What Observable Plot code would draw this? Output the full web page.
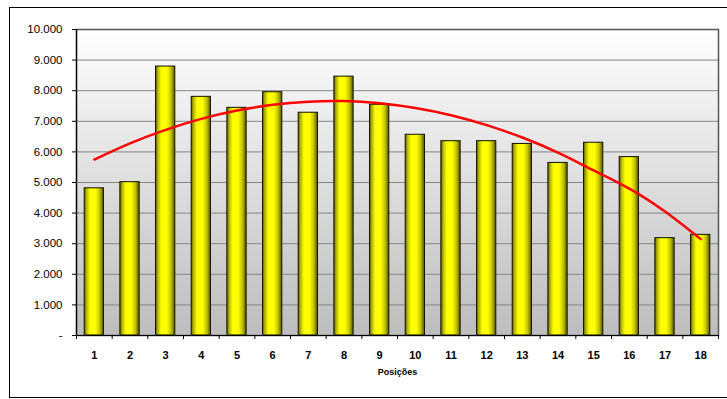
<!DOCTYPE html>
<html><head><meta charset="utf-8">
<script src="https://cdn.jsdelivr.net/npm/d3@7"></script>
<script src="https://cdn.jsdelivr.net/npm/@observablehq/plot@0.6"></script>
<style>
body{margin:0;background:#fff;overflow:hidden}
#wrap{position:relative;width:727px;height:399px;overflow:hidden}
#border{position:absolute;left:9px;top:7px;width:740px;height:389px;border:1px solid #000;pointer-events:none}
</style></head><body><div id="wrap"><div id="chart"></div><div id="border"></div></div>
<script>
const positions = [1,2,3,4,5,6,7,8,9,10,11,12,13,14,15,16,17,18];
const values = [4810,5010,8790,7800,7440,7950,7280,8460,7540,6560,6350,6350,6260,5640,6300,5830,3180,3290];
const trend = [5750,6280,6720,7080,7350,7540,7640,7660,7590,7435,7200,6875,6470,5975,5395,4800,4050,3150];
const yTicks = [0,1000,2000,3000,4000,5000,6000,7000,8000,9000,10000];
const gridValues = [1000,2000,3000,4000,5000,6000,7000,8000,9000];
const xTitle = "Posições";

const data = positions.map((p, i) => ({pos: p, value: values[i], trend: trend[i]}));
const boundaries = positions.map(p => p - 0.5).concat([positions[positions.length - 1] + 0.5]);

const fmt = d => d === 0 ? "-" : d3.format(",")(d).replace(/,/g, ".");

function defs() {
  const ns = "http://www.w3.org/2000/svg";
  const g = document.createElementNS(ns, "defs");
  g.innerHTML = `
    <linearGradient id="bgGrad" x1="0" y1="0" x2="0" y2="1">
      <stop offset="0" stop-color="#ffffff"/>
      <stop offset="1" stop-color="#bdbdbd"/>
    </linearGradient>
    <linearGradient id="barGrad" x1="0" y1="0" x2="1" y2="0">
      <stop offset="0" stop-color="#5e5e00"/>
      <stop offset="0.12" stop-color="#b5b500"/>
      <stop offset="0.3" stop-color="#ffff00"/>
      <stop offset="0.58" stop-color="#ffff00"/>
      <stop offset="0.8" stop-color="#c4c400"/>
      <stop offset="1" stop-color="#555500"/>
    </linearGradient>`;
  return g;
}

const chart = Plot.plot({
  width: 727,
  height: 399,
  marginTop: 29,
  marginBottom: 64,
  marginLeft: 76,
  marginRight: 9,
  style: {fontFamily: "'Liberation Sans', Arial, sans-serif", fontSize: "11px", background: "transparent", color: "#000"},
  x: {type: "linear", domain: [0.5, 18.5]},
  y: {domain: [0, 10000]},
  marks: [
    defs,
    Plot.frame({fill: "url(#bgGrad)", stroke: "none"}),
    Plot.ruleY(gridValues, {stroke: "#858585", strokeWidth: 1}),
    Plot.rectY(data, {x1: d => d.pos - 0.27, x2: d => d.pos + 0.27, y: "value", fill: "url(#barGrad)", stroke: "#111100", strokeWidth: 1}),
    Plot.lineY(data, {x: "pos", y: "trend", stroke: "#ff0000", strokeWidth: 2.5, curve: "natural"}),
    Plot.frame({stroke: "#555", strokeWidth: 1.5, fill: "none"}),
    Plot.ruleX([0.5], {stroke: "#000", strokeWidth: 1.2}),
    Plot.ruleY([0], {stroke: "#000", strokeWidth: 1.2}),
    Plot.axisY({ticks: yTicks, tickSize: 4, tickPadding: 10, tickFormat: fmt, fontSize: 11.5, label: null}),
    Plot.axisX({ticks: positions, tickSize: 0, tickPadding: 16, fontSize: 11, fontWeight: "bold", label: null}),
    Plot.axisX({ticks: boundaries, tickSize: 4, tickFormat: () => "", label: null}),
    Plot.text([xTitle], {frameAnchor: "bottom", dy: 39, fontSize: 9, fontWeight: "bold"})
  ]
});
document.getElementById("chart").appendChild(chart);
</script>
</body></html>
